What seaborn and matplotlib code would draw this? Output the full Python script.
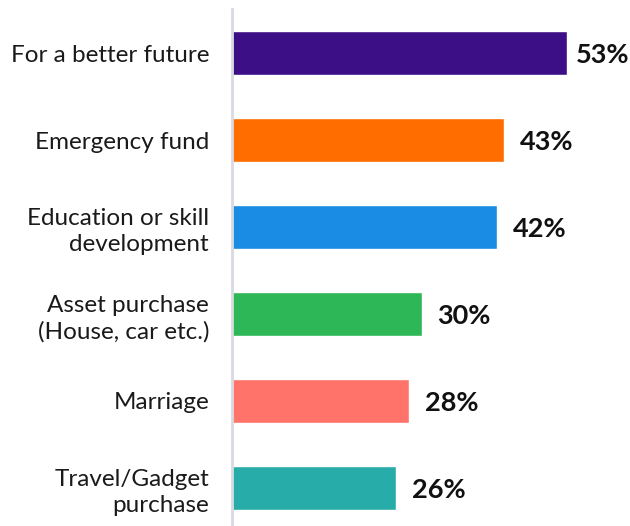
import matplotlib
matplotlib.use("Agg")
import matplotlib.pyplot as plt
import seaborn as sns
import pandas as pd

# Reasons for saving, share of respondents (%)
reasons = [
    "For a better future",
    "Emergency fund",
    "Education or skill\ndevelopment",
    "Asset purchase\n(House, car etc.)",
    "Marriage",
    "Travel/Gadget\npurchase",
]
shares = [53, 43, 42, 30, 28, 26]
bar_colors = ["#3d0f87", "#ff6d00", "#1a8ce3", "#2db757", "#ff736a", "#27acaa"]

df = pd.DataFrame({"reason": reasons, "share": shares})

sns.set_style("white")
plt.rcParams["font.family"] = ["Lato", "DejaVu Sans"]

fig = plt.figure(figsize=(6.3, 5.26), dpi=100)
ax = fig.add_axes([232 / 630, 0, 398 / 630, 517 / 526])

sns.barplot(
    data=df, x="share", y="reason", hue="reason",
    palette=bar_colors, legend=False, width=0.506,
    orient="h", saturation=1, ax=ax,
)

ax.set_xlim(0, 398 / 6.32)
ax.set_ylim(5.437, -0.506)
ax.set_xlabel("")
ax.set_ylabel("")
ax.set_xticks([])

for side in ("top", "right", "bottom"):
    ax.spines[side].set_visible(False)
ax.spines["left"].set_color("#d9d9e0")
ax.spines["left"].set_linewidth(2)

ax.tick_params(axis="y", length=0, pad=16.5)
for lbl in ax.get_yticklabels():
    lbl.set_fontsize(17.5)
    lbl.set_color("#1a1a1a")
    lbl.set_linespacing(1.3)
    lbl.set_horizontalalignment("right")
    lbl.set_multialignment("right")

for i, v in enumerate(shares):
    # the longest bar's label sits closer so it stays inside the figure
    offset = 6.5 if v == max(shares) else 11.5
    ax.annotate(
        f"{v}%", xy=(v, i), xytext=(offset, -1.5), textcoords="offset points",
        ha="left", va="center", fontsize=19.5, fontweight="bold", color="#111111",
    )

fig.savefig("out.png", dpi=100)
